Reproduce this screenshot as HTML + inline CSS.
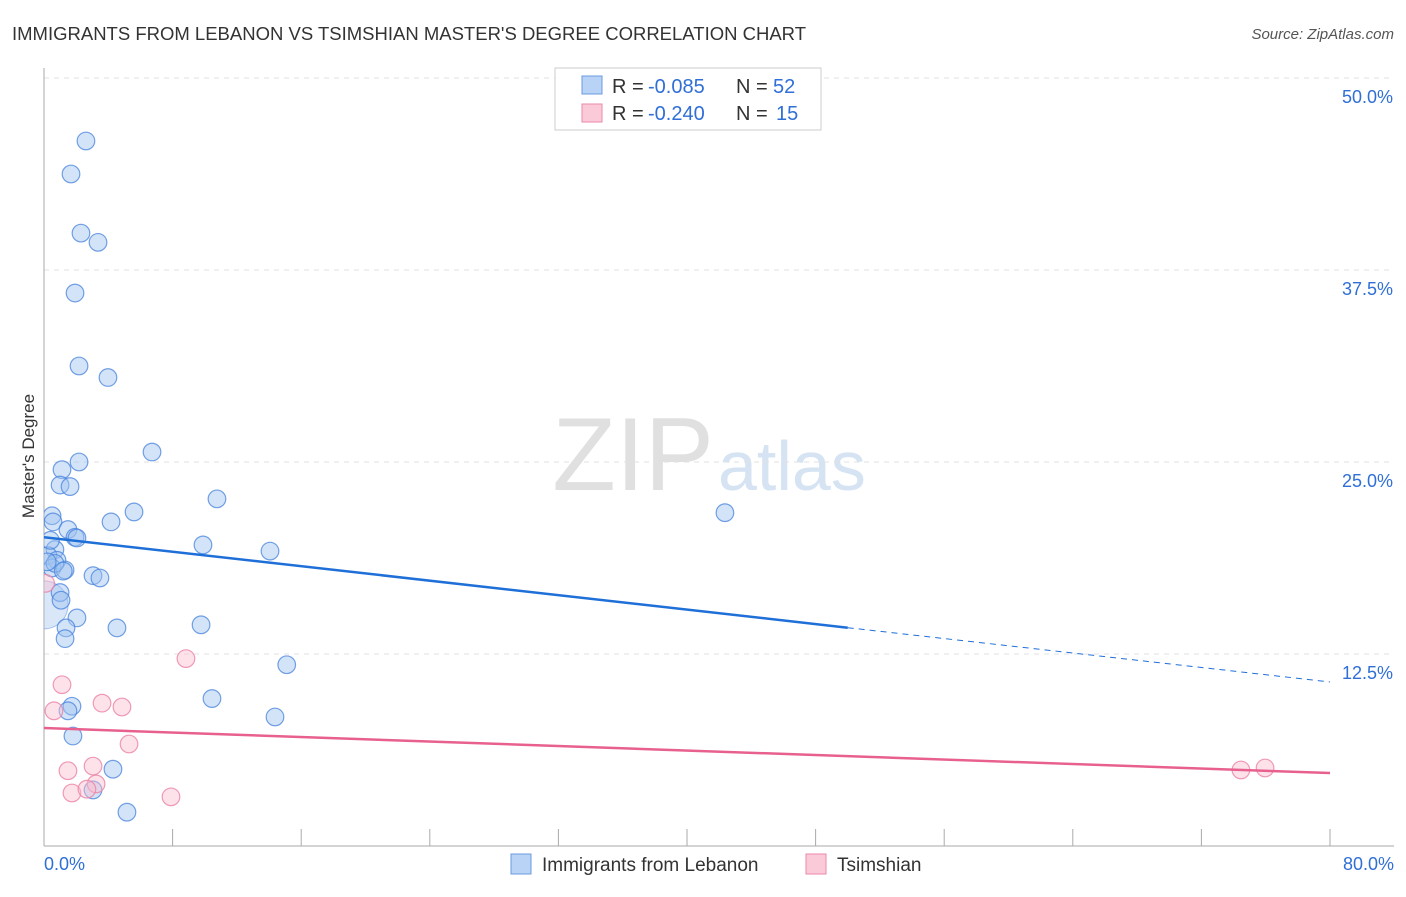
<!DOCTYPE html>
<html><head><meta charset="utf-8"><style>
body{margin:0;background:#fff;font-family:"Liberation Sans",sans-serif}
svg text{font-family:"Liberation Sans",sans-serif}
</style></head><body>
<svg id="c" width="1406" height="892">
<defs><clipPath id="pc"><rect x="44" y="60" width="1360" height="786"/></clipPath></defs>
<text x="12" y="40" font-size="18.5" fill="#333">IMMIGRANTS FROM LEBANON VS TSIMSHIAN MASTER'S DEGREE CORRELATION CHART</text>
<text x="1394" y="39" font-size="15" fill="#555" font-style="italic" text-anchor="end">Source: ZipAtlas.com</text>
<text x="714" y="490" font-size="104" fill="#e0e0e0" text-anchor="end" font-family="Liberation Serif">ZIP</text>
<text x="718" y="490" font-size="70" fill="#d5e3f3">atlas</text>
<text x="34" y="456" font-size="17" fill="#333" text-anchor="middle" transform="rotate(-90 34 456)">Master's Degree</text>
<g id="grid"></g><g id="marks" clip-path="url(#pc)"></g>
<g>
<rect x="555" y="68" width="266" height="62" fill="#fff" stroke="#ccc"/>
<rect x="582" y="76" width="20" height="18" fill="#b8d3f5" stroke="#6a9be0"/>
<rect x="582" y="104" width="20" height="18" fill="#fbcad8" stroke="#eb8aa8"/>
<text x="612" y="93" font-size="20" fill="#333">R =</text><text x="648" y="93" font-size="20" fill="#2f6fd6">-0.085</text>
<text x="736" y="93" font-size="20" fill="#333">N =</text><text x="773" y="93" font-size="20" fill="#2f6fd6">52</text>
<text x="612" y="120" font-size="20" fill="#333">R =</text><text x="648" y="120" font-size="20" fill="#2f6fd6">-0.240</text>
<text x="736" y="120" font-size="20" fill="#333">N =</text><text x="776" y="120" font-size="20" fill="#2f6fd6">15</text>
</g>
<g>
<rect x="511" y="854" width="20" height="20" fill="#b8d3f5" stroke="#6a9be0"/>
<text x="542" y="871" font-size="19" fill="#333">Immigrants from Lebanon</text>
<rect x="806" y="854" width="20" height="20" fill="#fbcad8" stroke="#eb8aa8"/>
<text x="837" y="871" font-size="19" fill="#333">Tsimshian</text>
</g>
</svg>
<script>
const yTicks=[12.5,25,37.5,50];
const xTickLabels=["0.0%","80.0%"];
const blueX=[2.61,1.68,2.30,3.36,1.93,2.18,3.98,6.72,2.18,1.12,1.0,1.62,10.76,5.6,42.36,0.5,4.17,0.56,1.49,1.93,2.05,9.89,14.06,0.68,0.25,0.81,0.5,1.31,3.05,3.48,0.68,1.0,1.06,2.05,1.37,4.54,9.77,1.31,15.1,10.45,1.74,1.49,14.37,1.8,4.29,3.05,5.16,0.2,0.4,1.2];
const blueY=[45.9,43.75,39.9,39.3,36.0,31.25,30.5,25.65,25.0,24.5,23.5,23.4,22.6,21.75,21.7,21.5,21.1,21.1,20.6,20.1,20.05,19.6,19.2,19.3,18.9,18.6,18.1,17.97,17.6,17.45,18.4,16.5,16.0,14.85,14.2,14.2,14.4,13.5,11.8,9.6,9.1,8.8,8.4,7.16,5.0,3.65,2.2,18.5,19.9,17.9];
const pinkX=[0.1,8.83,1.12,0.62,3.61,4.85,5.29,1.49,3.05,3.24,1.74,2.67,7.9,74.46,75.96];
const pinkY=[17.1,12.2,10.5,8.8,9.3,9.05,6.64,4.9,5.2,4.04,3.45,3.7,3.2,4.95,5.08];
const blueTrend=[20.1,10.68], pinkTrend=[7.68,4.75];
const X=v=>44+v/80*1286, Y=v=>846-v/12.5*192;
const NS="http://www.w3.org/2000/svg";
function mk(t,a,p){const e=document.createElementNS(NS,t);for(const k in a)e.setAttribute(k,a[k]);p.appendChild(e);return e;}
const g=document.getElementById('grid'), m=document.getElementById('marks');
yTicks.forEach(v=>{
 const l=mk('line',{x1:44,x2:1394,y1:Y(v),y2:Y(v),stroke:'#e2e2e2','stroke-dasharray':'5,5'},g);
 
 
 const t=mk('text',{x:1393,y:Y(v)+25,'font-size':18,fill:'#2f6fd6','text-anchor':'end'},g);t.textContent=v.toFixed(1)+'%';
 
 
});
let ax=mk('line',{x1:44,x2:44,y1:68,y2:846,stroke:'#aaa'},g);


ax=mk('line',{x1:44,x2:1394,y1:846,y2:846,stroke:'#aaa'},g);


for(let i=0;i<=10;i++){const tk=mk('line',{x1:X(i*8),x2:X(i*8),y1:829,y2:846,stroke:'#aaa'},g);
 
 }
[[0,44,'start'],[1,1394,'end']].forEach(([i,x,a])=>{const t=mk('text',{x:x,y:870,'font-size':18,fill:'#2f6fd6','text-anchor':a},g);t.textContent=xTickLabels[i];
 
 });
let c=mk('circle',{cx:X(0),cy:Y(15.7),r:24,fill:'rgba(160,196,240,0.4)',stroke:'rgba(90,140,220,0.5)'},m);


blueX.forEach((x,i)=>{const p=mk('circle',{cx:X(x),cy:Y(blueY[i]),r:8.8,fill:'rgba(160,196,240,0.45)',stroke:'rgba(70,130,220,0.75)','stroke-width':1.2},m);
 
 });
pinkX.forEach((x,i)=>{const p=mk('circle',{cx:X(x),cy:Y(pinkY[i]),r:8.8,fill:'rgba(250,190,208,0.45)',stroke:'rgba(235,130,165,0.8)','stroke-width':1.2},m);
 
 });
const by=x=>blueTrend[0]+(blueTrend[1]-blueTrend[0])*x/80;
let l=mk('line',{x1:X(0),y1:Y(by(0)),x2:X(50),y2:Y(by(50)),stroke:'#1f6fd8','stroke-width':2.5},m);


l=mk('line',{x1:X(50),y1:Y(by(50)),x2:X(80),y2:Y(by(80)),stroke:'#1f6fd8','stroke-width':1,'stroke-dasharray':'6,5'},m);


l=mk('line',{x1:X(0),y1:Y(pinkTrend[0]),x2:X(80),y2:Y(pinkTrend[1]),stroke:'#e8608e','stroke-width':2.5},m);


</script>
</body></html>
